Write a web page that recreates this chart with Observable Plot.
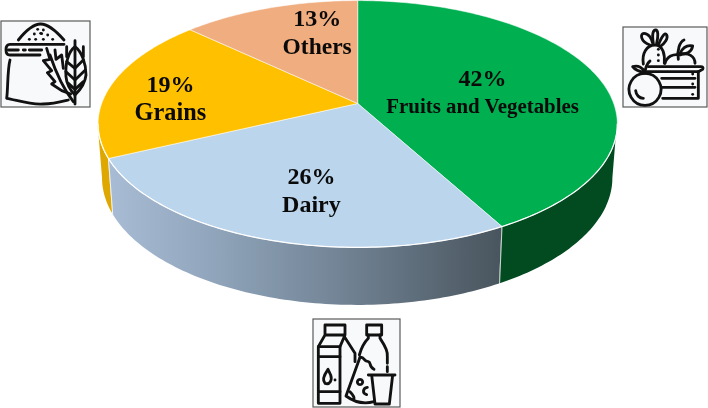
<!DOCTYPE html>
<html>
<head>
<meta charset="utf-8">
<script src="https://cdn.jsdelivr.net/npm/d3@7"></script>
<script src="https://cdn.jsdelivr.net/npm/@observablehq/plot@0.6"></script>
<style>html,body{margin:0;padding:0;background:#fff}svg{display:block}</style>
</head>
<body>
<div id="chart"></div>
<script>
// Data
const categories = ["Fruits and Vegetables", "Dairy", "Grains", "Others"];
const shares = [42, 26, 19, 13];
const topColors = ["#00AF50", "#BBD5EC", "#FFC000", "#F0AD80"];
const wallColors = ["#024A20", "url(#dairyWall)", "#DFA800", "#F0AD80"];
// Label placement on the disc: angle (degrees clockwise from 12 o'clock), radius fraction
const labelAngles = [79.4, 194, 273.3, 345];
const labelRadii = [0.504, 0.667, 0.738, 0.679];
const labelSizes = [20.9, 24, 24.3, 23.5];

// Perspective view of the disc
const view = {cx: 357.2, apexY: 103, a: 256, b: 120, k: 0.166, base: 156.7, shrinkX: 0.983, stretchY: 1.03};
const rad = (d) => (d * Math.PI) / 180;
function project(deg, r = 1) {
  const u = r * Math.sin(rad(deg)), v = r * Math.cos(rad(deg)), w = 1 + view.k * v;
  return {x: view.cx + (view.a * u) / w, y: view.apexY - (view.b * v) / w};
}
function below(p) {
  return {x: view.cx + (p.x - view.cx) * view.shrinkX, y: view.base + (p.y - view.apexY) * view.stretchY};
}
const total = d3.sum(shares);
const cum = d3.cumsum(shares);
const slices = categories.map((name, i) => ({
  name, i,
  start: ((i ? cum[i - 1] : 0) / total) * 360,
  end: (cum[i] / total) * 360
}));
const arc = (a0, a1) => {
  const n = Math.max(2, Math.ceil(Math.abs(a1 - a0)));
  return d3.range(n + 1).map((j) => a0 + ((a1 - a0) * j) / n);
};
// Silhouette angles of the tilted disc
const silR = (Math.acos(-view.k) * 180) / Math.PI;
const silL = 360 - silR;

const wallMarks = slices.flatMap((s) => {
  const a0 = Math.max(s.start, silR), a1 = Math.min(s.end, silL);
  if (a1 <= a0) return [];
  const rows = arc(a0, a1).map((a) => {
    const t = project(a), b = below(t);
    return {x1: t.x, y1: t.y, x2: b.x, y2: b.y};
  });
  return [Plot.area(rows, {x1: "x1", y1: "y1", x2: "x2", y2: "y2", fill: wallColors[s.i], curve: "linear"})];
});

const seams = slices
  .filter((s) => s.i < 2)
  .map((s) => {
    const t = project(s.end), b = below(t);
    return {x1: t.x, y1: t.y, x2: b.x, y2: b.y};
  });

const rim = arc(silR, silL).map((a) => project(a));

const topMarks = slices.map((s) => {
  const pts = [project(0, 0), ...arc(s.start, s.end).map((a) => project(a)), project(0, 0)];
  return Plot.line(pts, {x: "x", y: "y", fill: topColors[s.i], stroke: "#fff", strokeWidth: 0.7, strokeOpacity: 0.75, curve: "linear"});
});

const labels = categories.map((name, i) => ({
  name,
  pct: `${shares[i]}%`,
  size: labelSizes[i],
  ...project(labelAngles[i], labelRadii[i])
}));
const labelGap = 14;
const textStyle = {fontFamily: "Liberation Serif", fontWeight: "bold", fill: "#0a0a0a", textAnchor: "middle", lineAnchor: "middle"};
const labelMarks = labels.flatMap((d) => [
  Plot.text([d], {x: "x", y: "y", text: "pct", dy: -labelGap, fontSize: 24, ...textStyle}),
  Plot.text([d], {x: "x", y: "y", text: "name", dy: labelGap, fontSize: d.size, ...textStyle})
]);

// Decorative icons: frame plus line art, drawn at 3x and scaled down
const icons = [
  {
    box: [1, 21, 89, 86], origin: [0, 0],
    lines: [
      "M55 120C75 95 100 72 122 72C145 72 170 95 192 120",
      "M192 133H30Q18 133 18 149Q18 165 30 165H120",
      "M25 150H55M70 150H76M88 150H125",
      "M30 180C22 210 24 270 20 295C50 300 90 315 130 312C160 312 185 305 205 300",
      "M225 122V312",
      "M225 140C205 155 195 190 198 230C200 255 215 275 225 285C235 275 255 255 258 225C258 190 245 155 225 140",
      "M200 185L225 205L250 180M198 215L225 240L256 210M205 250L225 268L250 245M200 140V170M250 140V170",
      "M150 165C165 210 185 260 220 305",
      "M140 145L150 178L130 182L155 212L142 218L165 245L155 252L185 272L212 282",
      "M165 150L168 178L185 165L190 205"
    ],
    dots: [[88,118],[107,118],[130,118],[158,118],[103,102],[122,100],[143,105],[113,88],[130,90],[125,101]]
  },
  {
    box: [623, 27, 84, 80], origin: [480, 0],
    lines: [
      "M495 220A48 48 0 1 0 495.1 220Z",
      "M467 272C468 285 478 295 490 295",
      "M495 220C495 208 500 190 510 183",
      "M495 218C480 215 465 210 458 200C475 195 490 203 495 218",
      "M505 200H662Q672 200 668 208L655 215H500",
      "M655 215V295H548M545 235H645M545 262H645",
      "M490 192C485 160 500 135 525 135C550 135 555 165 553 190",
      "M510 135C480 125 480 100 492 100C505 100 515 115 518 130",
      "M520 130C515 100 520 90 527 90C535 90 535 110 530 130",
      "M535 135C545 110 555 95 560 105C565 115 555 130 540 140",
      "M555 190C560 170 580 160 600 165C625 155 645 170 645 190",
      "M595 178C590 150 600 125 612 120",
      "M600 160C610 140 625 135 638 138C635 155 620 165 600 160"
    ],
    dots: [[535,148],[535,165],[535,182],[638,222],[638,252],[638,283]]
  },
  {
    box: [313, 319, 87, 88], origin: [300, 300],
    lines: [
      "M55 310V140H120V310Z",
      "M55 140L75 105H130L165 160V185M120 140L135 105M75 105V75H135V105",
      "M55 170H120M55 275H120",
      "M84 208C72 225 65 240 75 250C90 255 97 240 92 225Z",
      "M200 75H245V105H200Z",
      "M205 105V115C195 125 185 140 178 165",
      "M240 105V115C250 130 265 150 262 170V190M262 200V215",
      "M180 172C195 170 190 185 205 185C215 188 205 200 222 208",
      "M180 172L138 288C165 308 195 312 222 305",
      "M180 238A8 8 0 1 0 180.1 238Z",
      "M202 262C188 264 186 280 200 284M150 275C160 285 165 295 160 298",
      "M205 225H285M215 225L225 312H268L278 225"
    ],
    dots: [[105,240]]
  }
];

function iconMark(icon) {
  return () => {
    const [bx, by, bw, bh] = icon.box;
    const g = d3.create("svg:g");
    g.append("rect").attr("x", bx).attr("y", by).attr("width", bw).attr("height", bh)
      .attr("fill", "#f8f9fb").attr("stroke", "#5a5a5a").attr("stroke-width", 1.2);
    const art = g.append("g")
      .attr("transform", `translate(${icon.origin[0]},${icon.origin[1]}) scale(${1 / 3})`)
      .attr("fill", "none").attr("stroke", "#111").attr("stroke-width", 8.5)
      .attr("stroke-linecap", "round").attr("stroke-linejoin", "round");
    icon.lines.forEach((d) => art.append("path").attr("d", d));
    icon.dots.forEach(([x, y]) => art.append("path").attr("d", `M${x} ${y}h0.1`));
    return g.node();
  };
}

function gradientDefs() {
  const defs = d3.create("svg:defs");
  const lg = defs.append("linearGradient").attr("id", "dairyWall").attr("x1", 0).attr("x2", 1).attr("y1", 0).attr("y2", 0);
  [[0, "#A8BDD5"], [0.25, "#92A7BD"], [0.55, "#76889A"], [1, "#49555E"]].forEach(([o, c]) =>
    lg.append("stop").attr("offset", o).attr("stop-color", c));
  return defs.node();
}

const chart = Plot.plot({
  width: 708,
  height: 408,
  margin: 0,
  style: {background: "#fff", filter: "blur(0.3px)"},
  x: {domain: [0, 708], range: [0, 708], axis: null},
  y: {domain: [0, 408], range: [0, 408], axis: null},
  marks: [
    gradientDefs,
    ...wallMarks,
    Plot.link(seams, {x1: "x1", y1: "y1", x2: "x2", y2: "y2", stroke: "#fff", strokeWidth: 1, strokeOpacity: 0.8}),
    ...topMarks,
    Plot.line(rim, {x: "x", y: "y", stroke: "#fff", strokeWidth: 1.2, curve: "linear"}),
    ...labelMarks,
    ...icons.map(iconMark)
  ]
});
document.getElementById("chart").appendChild(chart);
</script>
</body>
</html>
